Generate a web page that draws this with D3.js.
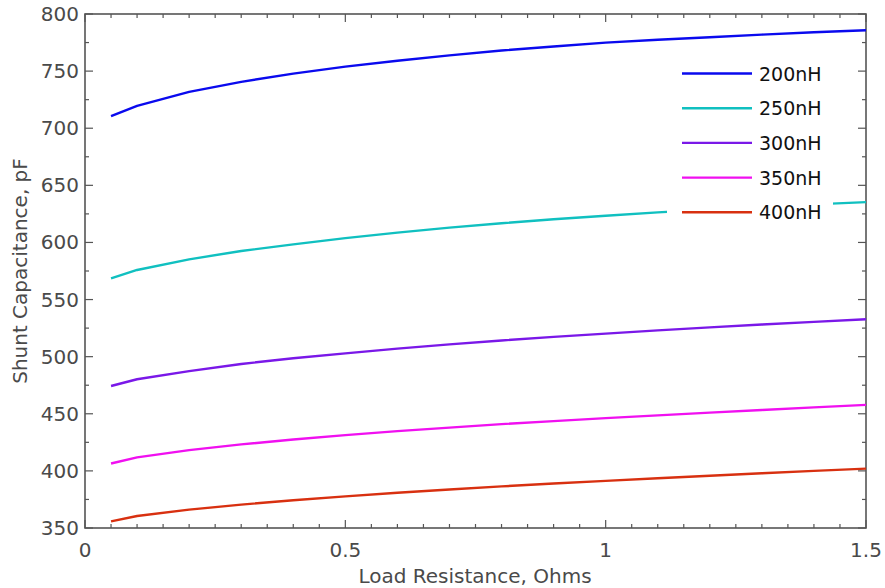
<!DOCTYPE html>
<html>
<head>
<meta charset="utf-8">
<script src="https://cdn.jsdelivr.net/npm/d3@7"></script>
<style>
  html, body { margin: 0; padding: 0; background: #fff; }
  svg { display: block; font-family: "DejaVu Sans", "Lato", sans-serif; }
</style>
</head>
<body>
<svg id="chart" width="885" height="588"></svg>
<script>
// Load resistance samples (Ohms)
const resistance = [0.05, 0.1, 0.2, 0.3, 0.4, 0.5, 0.6, 0.7, 0.8, 0.9, 1.0, 1.1, 1.2, 1.3, 1.4, 1.5];

// Shunt capacitance (pF) for each inductance
const c200nH = [710.5, 719.5, 731.8, 740.6, 747.8, 753.9, 759.1, 763.8, 768.0, 771.6, 774.9, 777.4, 779.7, 781.9, 784.0, 785.8];
const c250nH = [568.6, 575.9, 585.2, 592.5, 598.3, 603.8, 608.6, 613.0, 616.8, 620.3, 623.4, 626.3, 628.9, 631.2, 633.3, 635.3];
const c300nH = [474.3, 480.2, 487.3, 493.6, 498.6, 502.9, 507.0, 510.8, 514.2, 517.3, 520.2, 523.0, 525.6, 528.1, 530.5, 532.8];
const c350nH = [406.5, 411.8, 418.2, 423.2, 427.5, 431.3, 434.8, 437.9, 440.9, 443.6, 446.2, 448.6, 451.0, 453.3, 455.6, 457.8];
const c400nH = [355.8, 360.5, 366.1, 370.5, 374.3, 377.7, 380.8, 383.7, 386.4, 388.9, 391.3, 393.6, 395.8, 397.9, 400.0, 402.0];

const seriesNames = ["200nH", "250nH", "300nH", "350nH", "400nH"];
const seriesValues = [c200nH, c250nH, c300nH, c350nH, c400nH];
const seriesColors = ["#0a0aee", "#10c0c0", "#7a18e8", "#f010f0", "#d83010"];

const xTicks = [0, 0.5, 1, 1.5];
const xTickLabels = ["0", "0.5", "1", "1.5"];
const yTicks = [350, 400, 450, 500, 550, 600, 650, 700, 750, 800];

const svg = d3.select("#chart");
const plotLeft = 85, plotRight = 866, plotTop = 14, plotBottom = 528;

const x = d3.scaleLinear().domain([0, 1.5]).range([plotLeft, plotRight]);
const y = d3.scaleLinear().domain([350, 800]).range([plotBottom, plotTop]);

const axisColor = "#555";
const labelColor = "#4a4a4a";

// Minor ticks every 0.05 on x and 25 on y
const xMinor = d3.range(0, 31).map(i => i * 0.05);
const yMinor = d3.range(0, 19).map(i => 350 + i * 25);

const tickGroup = svg.append("g").attr("stroke", axisColor).attr("stroke-width", 1.2);
xMinor.forEach(v => {
  const major = Math.abs(v * 2 - Math.round(v * 2)) < 1e-6;
  const len = major ? 8 : 4;
  tickGroup.append("line").attr("x1", x(v)).attr("x2", x(v)).attr("y1", plotBottom).attr("y2", plotBottom - len);
  tickGroup.append("line").attr("x1", x(v)).attr("x2", x(v)).attr("y1", plotTop).attr("y2", plotTop + len);
});
yMinor.forEach(v => {
  const major = v % 50 === 0;
  const len = major ? 8 : 4;
  tickGroup.append("line").attr("x1", plotLeft).attr("x2", plotLeft + len).attr("y1", y(v)).attr("y2", y(v));
  tickGroup.append("line").attr("x1", plotRight).attr("x2", plotRight - len).attr("y1", y(v)).attr("y2", y(v));
});

// Frame
svg.append("rect")
  .attr("x", plotLeft).attr("y", plotTop)
  .attr("width", plotRight - plotLeft).attr("height", plotBottom - plotTop)
  .attr("fill", "none").attr("stroke", axisColor).attr("stroke-width", 1.6);

// Tick labels
svg.append("g").selectAll("text").data(xTicks).join("text")
  .attr("x", d => x(d)).attr("y", 557)
  .attr("text-anchor", "middle")
  .attr("font-size", 20).attr("fill", labelColor)
  .text((d, i) => xTickLabels[i]);

svg.append("g").selectAll("text").data(yTicks).join("text")
  .attr("x", 79).attr("y", d => y(d) + 7)
  .attr("text-anchor", "end")
  .attr("font-size", 20).attr("fill", labelColor)
  .text(d => d);

// Axis titles
svg.append("text")
  .attr("x", 475).attr("y", 583)
  .attr("text-anchor", "middle")
  .attr("font-size", 20).attr("fill", labelColor)
  .text("Load Resistance, Ohms");

svg.append("text")
  .attr("transform", "translate(27,271) rotate(-90)")
  .attr("text-anchor", "middle")
  .attr("font-size", 20).attr("fill", labelColor)
  .text("Shunt Capacitance, pF");

// Curves
const line = d3.line().x((d, i) => x(resistance[i])).y(d => y(d));
svg.append("g").selectAll("path").data(seriesValues).join("path")
  .attr("d", d => line(d))
  .attr("fill", "none")
  .attr("stroke", (d, i) => seriesColors[i])
  .attr("stroke-width", 2.4)
  .attr("stroke-linejoin", "round");

// Legend with opaque background
const legend = svg.append("g");
legend.append("rect")
  .attr("x", 667).attr("y", 56).attr("width", 166).attr("height", 172)
  .attr("fill", "#fff");
seriesNames.forEach((name, i) => {
  const ly = 73.5 + i * 34.7;
  legend.append("line")
    .attr("x1", 682).attr("x2", 752).attr("y1", ly).attr("y2", ly)
    .attr("stroke", seriesColors[i]).attr("stroke-width", 2.4);
  legend.append("text")
    .attr("x", 759).attr("y", ly + 7)
    .attr("font-size", 19).attr("fill", "#111")
    .text(name);
});
</script>
</body>
</html>
